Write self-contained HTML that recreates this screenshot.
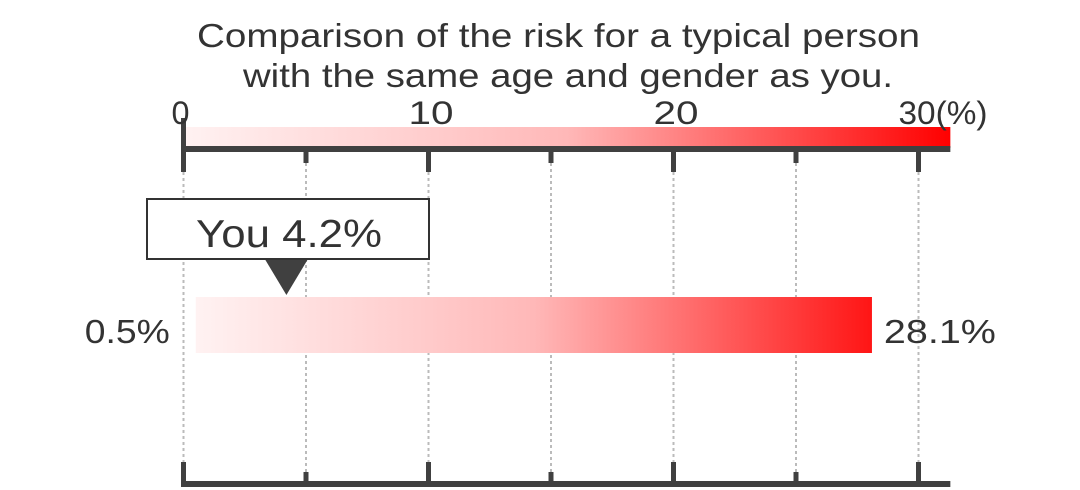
<!DOCTYPE html>
<html><head><meta charset="utf-8"><style>
body{margin:0;background:#fff;}
svg{display:block;font-family:"Liberation Sans",sans-serif;}
</style></head><body>
<svg id="chart" width="1080" height="490">
<defs>
<linearGradient id="g1" x1="0" x2="1" y1="0" y2="0"><stop offset="0" stop-color="#fff2f2"/><stop offset="0.5" stop-color="#ffb8b8"/><stop offset="1" stop-color="#ff0000"/></linearGradient>
<linearGradient id="g2" x1="0" x2="1" y1="0" y2="0"><stop offset="0" stop-color="#fff2f2"/><stop offset="0.5" stop-color="#ffb8b8"/><stop offset="1" stop-color="#ff1515"/></linearGradient>
</defs>
<text x="197" y="47" font-size="33" fill="#333" textLength="723" lengthAdjust="spacingAndGlyphs">Comparison of the risk for a typical person</text>
<text x="243" y="87" font-size="33" fill="#333" textLength="650" lengthAdjust="spacingAndGlyphs">with the same age and gender as you.</text>
<g id="plot"></g>
</svg>
<script>
const tickValues=[0,5,10,15,20,25,30];
const tickLabels=["0","10","20","30(%)"];
const labelValues=[0,10,20,30];
const rangeLow=[0.5];
const rangeHigh=[28.1];
const youValue=[4.2];
const lowLabel=["0.5%"];
const highLabel=["28.1%"];
const youLabel=["You 4.2%"];
const NS="http://www.w3.org/2000/svg";
const g=document.getElementById('plot');
const x=v=>183.5+v*24.5;
const axisEnd=31.3;
function el(t,a,p){const e=document.createElementNS(NS,t);for(const k in a)e.setAttribute(k,a[k]);(p||g).appendChild(e);return e;}
let sb=el('rect',{x:x(0),y:127,width:x(axisEnd)-x(0),height:21,fill:'url(#g1)'});


tickValues.forEach((v,i)=>{
  const major=v%10===0;
  let d=el('line',{x1:x(v),x2:x(v),y1:major?172:163,y2:major?462:472,stroke:'#bbb','stroke-width':2,'stroke-dasharray':'3,3'});
  
  
  let t1=el('rect',{x:x(v)-2.5,y:v===0?118:147,width:5,height:major?(v===0?54:25):16,fill:'#404040'});
  
  
  let t2=el('rect',{x:x(v)-2.5,y:major?462:472,width:5,height:major?24:14,fill:'#404040'});
  
  
});
let ta=el('rect',{x:x(0)-2.5,y:146,width:x(axisEnd)-x(0)+2.5,height:6,fill:'#404040'});


let ba=el('rect',{x:x(0)-2.5,y:481,width:x(axisEnd)-x(0)+2.5,height:6,fill:'#404040'});


labelValues.forEach((v,i)=>{
  const last=i===labelValues.length-1;
  let t=el('text',{x:x(v)-(v===0?12:20),y:124,'font-size':32,fill:'#333'});
  t.setAttribute('textLength',last?89:(v===0?18:45));
  t.setAttribute('lengthAdjust','spacingAndGlyphs');
  t.textContent=tickLabels[i];
  
  
});
let rb=el('rect',{x:x(rangeLow[0]),y:297,width:x(rangeHigh[0])-x(rangeLow[0]),height:56,fill:'url(#g2)'});


let lt=el('text',{x:x(rangeLow[0])-111,y:343,'font-size':33,fill:'#333',textLength:85,lengthAdjust:'spacingAndGlyphs'});
lt.textContent=lowLabel[0];


let ht=el('text',{x:x(rangeHigh[0])+12,y:343,'font-size':33,fill:'#333',textLength:112,lengthAdjust:'spacingAndGlyphs'});
ht.textContent=highLabel[0];


const yx=x(youValue[0]);
let box=el('rect',{x:147,y:199,width:282,height:60,fill:'#fff',stroke:'#333','stroke-width':2});


let yt=el('text',{x:196,y:247,'font-size':39,fill:'#333',textLength:186,lengthAdjust:'spacingAndGlyphs'});
yt.textContent=youLabel[0];


let tri=el('polygon',{points:`${yx-21},260 ${yx+21},260 ${yx},295`,fill:'#404040'});


</script>
</body></html>
